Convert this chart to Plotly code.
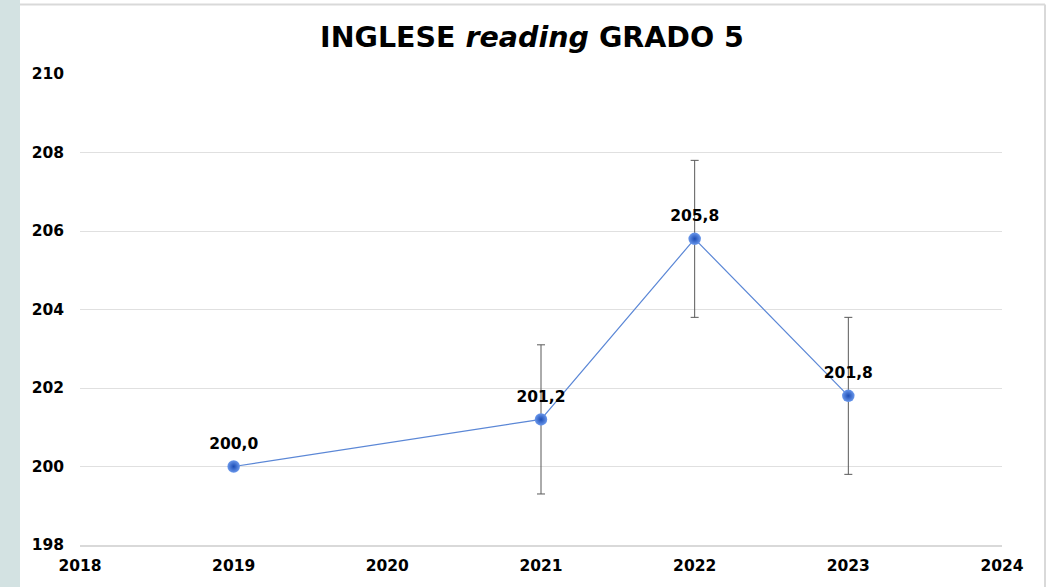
import plotly.graph_objects as go

years = [2019, 2021, 2022, 2023]
scores = [200.0, 201.2, 205.8, 201.8]
err_years = [2021, 2022, 2023]
err_scores = [201.2, 205.8, 201.8]
err_half = [1.9, 2.0, 2.0]
y_ticks = [198, 200, 202, 204, 206, 208, 210]
x_ticks = [2018, 2019, 2020, 2021, 2022, 2023, 2024]
title_html = "INGLESE <i>reading</i> GRADO 5"

labels = [f"{v:.1f}".replace(".", ",") for v in scores]

W, H = 1053, 587
L, R, T, B = 80, 1002, 74, 548
pw, ph = R - L, B - T

def px(x):
    return (x - L) / pw

def py(y):
    return (B - y) / ph

FONT = "DejaVu Sans"

fig = go.Figure()

fig.add_trace(go.Scatter(
    x=err_years, y=err_scores, mode="markers",
    marker=dict(size=1, opacity=0),
    error_y=dict(type="data", array=err_half, visible=True,
                 color="#595959", thickness=1, width=4),
    hoverinfo="skip", showlegend=False,
))

fig.add_trace(go.Scatter(
    x=years, y=scores, mode="lines+markers",
    line=dict(color="#5b87d6", width=1.2),
    marker=dict(size=12.5, color="#6a98ec",
                gradient=dict(type="radial", color="#1c4cb4"),
                line=dict(width=0)),
    showlegend=False,
))

fig.add_trace(go.Scatter(
    x=years, y=scores, mode="text+markers",
    marker=dict(size=20, opacity=0),
    text=labels, textposition="top center",
    textfont=dict(family=FONT, size=15.5, color="#000000", weight="bold"),
    hoverinfo="skip", showlegend=False,
))

fig.update_layout(
    width=W, height=H,
    margin=dict(l=L, r=W - R, t=T, b=H - B),
    paper_bgcolor="white", plot_bgcolor="white",
    title=dict(text=title_html, x=532 / W, xref="container", xanchor="center",
               y=1 - 37 / H, yanchor="middle",
               font=dict(family=FONT, size=28.5, color="#000000", weight="bold")),
    xaxis=dict(range=[2018, 2024], tickvals=x_ticks, ticktext=[str(v) for v in x_ticks],
               showgrid=False, zeroline=False, showline=True, linecolor="#d9d9d9",
               linewidth=2, ticks="", ticklabelstandoff=5,
               tickfont=dict(family=FONT, size=15.5, color="#000000", weight="bold")),
    yaxis=dict(range=[198, 210], tickvals=y_ticks, ticktext=[str(v) for v in y_ticks],
               showgrid=True, gridcolor="#e0e0e0", gridwidth=1, zeroline=False,
               showline=False, ticks="", ticklabelstandoff=15,
               tickfont=dict(family=FONT, size=15.5, color="#000000", weight="bold")),
    shapes=[
        dict(type="rect", xref="paper", yref="paper",
             x0=px(0), x1=px(20), y0=py(H + 5), y1=py(-5),
             fillcolor="#d3e2e2", line=dict(width=0), layer="below"),
        dict(type="line", xref="paper", yref="paper",
             x0=px(20), x1=px(1045), y0=py(4), y1=py(4),
             line=dict(color="#d9d9d9", width=2)),
        dict(type="line", xref="paper", yref="paper",
             x0=px(1045), x1=px(1045), y0=py(4), y1=py(H + 5),
             line=dict(color="#d9d9d9", width=2)),
    ],
)

fig.write_html("out.html", config={"displayModeBar": False},
               post_script="document.body.style.margin='0';")
